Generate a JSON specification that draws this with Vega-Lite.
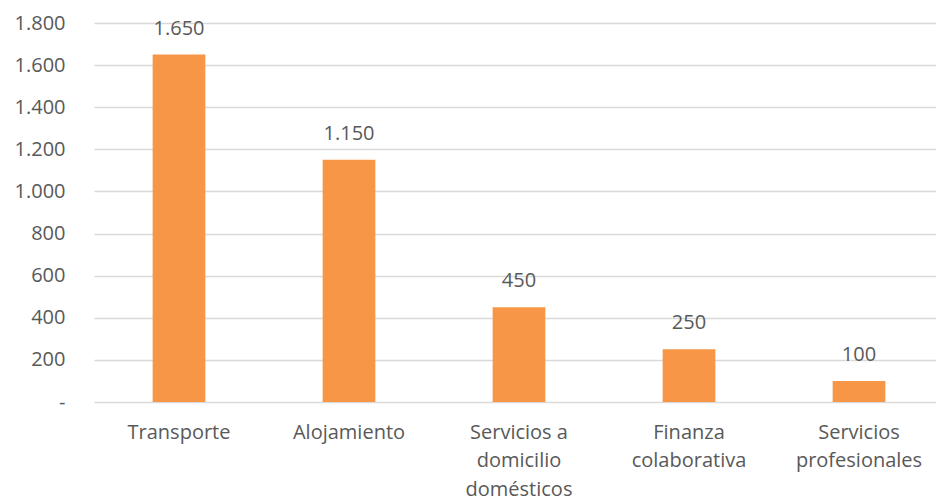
{
  "$schema": "https://vega.github.io/schema/vega-lite/v6.json",
  "autosize": {"type": "none"},
  "width": 850,
  "height": 379,
  "padding": {"left": 94, "top": 23, "right": 0, "bottom": 97},
  "background": "white",
  "config": {
    "locale": {"number": {"decimal": ",", "thousands": ".", "grouping": [3], "currency": ["€", ""]}},
    "view": {"stroke": null},
    "font": "Open Sans"
  },
  "data": {
    "values": [
      {"categoria": "Transporte", "valor": 1650},
      {"categoria": "Alojamiento", "valor": 1150},
      {"categoria": "Servicios  a|domicilio|domésticos", "valor": 450},
      {"categoria": "Finanza|colaborativa", "valor": 250},
      {"categoria": "Servicios|profesionales", "valor": 100}
    ]
  },
  "encoding": {
    "x": {
      "field": "categoria",
      "type": "nominal",
      "sort": null,
      "scale": {"paddingInner": 0.69, "paddingOuter": 0.345},
      "axis": {
        "title": null,
        "labelAngle": 0,
        "labelExpr": "split(datum.label, '|')",
        "labelFontSize": 20,
        "labelColor": "#595959",
        "labelLineHeight": 28.5,
        "labelPadding": 20,
        "ticks": false,
        "domain": false,
        "grid": false
      }
    },
    "y": {
      "field": "valor",
      "type": "quantitative",
      "scale": {"domain": [0, 1800], "nice": false},
      "axis": {
        "title": null,
        "values": [0, 200, 400, 600, 800, 1000, 1200, 1400, 1600, 1800],
        "labelExpr": "datum.value == 0 ? '-' : replace(format(datum.value, ','), ',', '.')",
        "labelFontSize": 20,
        "labelColor": "#595959",
        "labelPadding": 29,
        "ticks": false,
        "domain": false,
        "grid": true,
        "gridColor": "#d9d9d9",
        "gridWidth": 1.5
      }
    }
  },
  "layer": [
    {"mark": {"type": "bar", "color": "#F79646"}},
    {
      "mark": {"type": "text", "baseline": "alphabetic", "dy": -20, "fontSize": 20, "color": "#595959"},
      "encoding": {"text": {"field": "valor", "type": "quantitative", "format": ","}}
    }
  ]
}
